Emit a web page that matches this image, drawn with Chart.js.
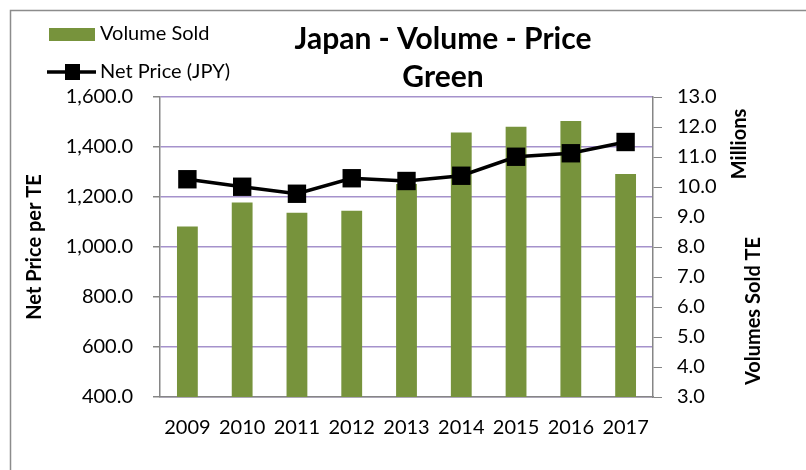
<!DOCTYPE html>
<html>
<head>
<meta charset="utf-8">
<script src="https://cdn.jsdelivr.net/npm/chart.js@4/dist/chart.umd.min.js"></script>
<style>
  html, body { margin: 0; padding: 0; background: #fff; }
  #wrap { width: 806px; height: 470px; position: relative; }
</style>
</head>
<body>
<div id="wrap"><canvas id="chart" width="806" height="470"></canvas></div>
<script>
// Data
const years = ['2009', '2010', '2011', '2012', '2013', '2014', '2015', '2016', '2017'];
const volumeSold = [8.68, 9.48, 9.14, 9.21, 10.1, 11.82, 12.01, 12.2, 10.43]; // millions
const netPrice = [1271, 1241, 1213, 1275, 1264, 1285, 1361, 1375, 1420];

const FONT = 'Lato, "Open Sans", sans-serif';
const GREEN = '#77933c';
const GRID = '#a592cc';
const AXIS = '#868686';

// Title, legend, axis titles and outer frame
const decorations = {
    id: 'decorations',
    beforeDraw(chart) {
        const ctx = chart.ctx;
        ctx.save();
        ctx.fillStyle = '#fff';
        ctx.fillRect(0, 0, chart.width, chart.height);
        ctx.strokeStyle = '#8c8c8c';
        ctx.lineWidth = 1.5;
        ctx.strokeRect(10.5, 10.5, chart.width, chart.height);
        ctx.restore();
    },
    afterDraw(chart) {
        const ctx = chart.ctx;
        ctx.save();
        ctx.fillStyle = '#000';
        ctx.textBaseline = 'middle';

        // title
        ctx.textAlign = 'center';
        ctx.font = 'bold 30px ' + FONT;
        ctx.fillText('Japan - Volume - Price', 443, 39);
        ctx.fillText('Green', 443, 77);

        // legend
        ctx.textAlign = 'left';
        ctx.font = '20px ' + FONT;
        ctx.fillStyle = GREEN;
        ctx.fillRect(49, 28, 46, 13);
        ctx.fillStyle = '#000';
        ctx.fillText('Volume Sold', 100, 34);
        ctx.strokeStyle = '#000';
        ctx.lineWidth = 3.5;
        ctx.beginPath();
        ctx.moveTo(47, 72);
        ctx.lineTo(96, 72);
        ctx.stroke();
        ctx.fillRect(65, 64, 15, 16);
        ctx.fillText('Net Price (JPY)', 100, 72);

        // axis titles
        ctx.font = 'bold 20px ' + FONT;
        ctx.textAlign = 'center';
        const vtext = (t, x, y) => {
            ctx.save();
            ctx.translate(x, y);
            ctx.rotate(-Math.PI / 2);
            ctx.fillText(t, 0, 0);
            ctx.restore();
        };
        vtext('Net Price per TE', 35, 247);
        vtext('Millions', 740, 144);
        vtext('Volumes Sold TE', 754, 311);
        ctx.restore();
    }
};

new Chart(document.getElementById('chart'), {
    type: 'bar',
    data: {
        labels: years,
        datasets: [
            {
                type: 'line',
                label: 'Net Price (JPY)',
                data: netPrice,
                yAxisID: 'y',
                borderColor: '#000',
                backgroundColor: '#000',
                borderWidth: 3.5,
                tension: 0,
                pointStyle: 'rect',
                pointRadius: 13,
                pointBackgroundColor: '#000',
                pointBorderWidth: 0,
                order: 0
            },
            {
                label: 'Volume Sold',
                data: volumeSold,
                yAxisID: 'y2',
                backgroundColor: GREEN,
                categoryPercentage: 1,
                barPercentage: 0.38,
                order: 1
            }
        ]
    },
    options: {
        responsive: false,
        animation: false,
        layout: { padding: { top: 97, left: 0, right: 0, bottom: 0 } },
        plugins: {
            legend: { display: false },
            title: { display: false },
            tooltip: { enabled: false }
        },
        scales: {
            x: {
                offset: true,
                grid: { display: false },
                border: { display: true, color: AXIS, width: 1.5 },
                ticks: { color: '#000', font: { family: FONT, size: 20 }, padding: 11, maxRotation: 0 },
                afterFit: s => { s.height = 73; }
            },
            y: {
                position: 'left',
                min: 400,
                max: 1600,
                grid: { color: GRID, lineWidth: 1.5, tickColor: AXIS, tickLength: 7 },
                border: { display: true, color: AXIS, width: 1.5 },
                ticks: {
                    stepSize: 200,
                    color: '#000',
                    padding: 20,
                    font: { family: FONT, size: 20 },
                    callback: v => v.toLocaleString('en-US', { minimumFractionDigits: 1, maximumFractionDigits: 1 })
                },
                afterFit: s => { s.width = 160; }
            },
            y2: {
                position: 'right',
                min: 3,
                max: 13,
                grid: { drawOnChartArea: false, tickColor: AXIS, tickLength: 9 },
                border: { display: true, color: AXIS, width: 1.5 },
                ticks: {
                    stepSize: 1,
                    color: '#000',
                    padding: 15,
                    font: { family: FONT, size: 20 },
                    callback: v => v.toFixed(1)
                },
                afterFit: s => { s.width = 153; }
            }
        }
    },
    plugins: [decorations]
});
</script>
</body>
</html>
